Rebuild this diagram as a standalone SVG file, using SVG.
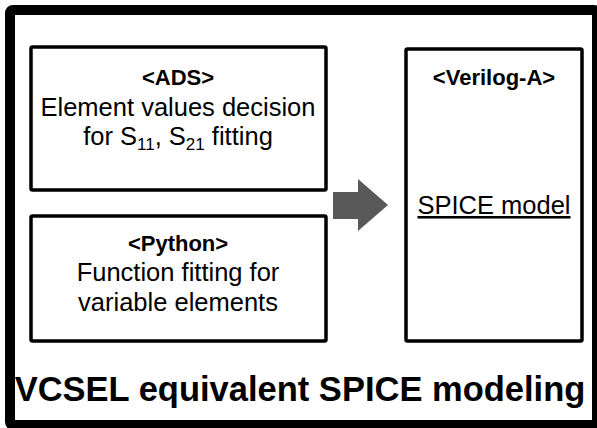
<svg xmlns="http://www.w3.org/2000/svg" width="597" height="428" viewBox="0 0 597 428">
<style>
.box{fill:#fff;stroke:#000;stroke-width:3.5}
.t{font-family:"Liberation Sans",Arial,sans-serif;font-size:25.5px;fill:#000;text-anchor:middle}
.b{font-weight:bold;font-size:22px}
.title{font-family:"Liberation Sans",Arial,sans-serif;font-size:34.5px;font-weight:bold;text-anchor:middle}
</style>
<rect x="0" y="0" width="597" height="428" fill="#fff"/>
<rect id="frame" x="10" y="10" width="587" height="415" rx="3" fill="#fff" stroke="#000" stroke-width="10"/>
<g id="ads">
<rect class="box" x="31" y="47" width="295" height="143" rx="1.5"/>
<text class="t b" x="178" y="85">&lt;ADS&gt;</text>
<text class="t" x="178" y="116">Element values decision</text>
<text class="t" x="178" y="145">for S<tspan font-size="17" dy="5">11</tspan><tspan dy="-5">, S</tspan><tspan font-size="17" dy="5">21</tspan><tspan dy="-5"> fitting</tspan></text>
</g>
<g id="python">
<rect class="box" x="31" y="216" width="295" height="125" rx="1.5"/>
<text class="t b" x="178" y="251">&lt;Python&gt;</text>
<text class="t" x="178" y="281">Function fitting for</text>
<text class="t" x="178" y="311">variable elements</text>
</g>
<g id="verilog">
<rect class="box" x="406" y="49" width="176" height="292" rx="1.5"/>
<text class="t b" x="494" y="85">&lt;Verilog-A&gt;</text>
<text class="t" x="494" y="214" text-decoration="underline">SPICE model</text>
</g>
<g id="connectors">
<polygon points="333,192 358,192 358,179 388,205 358,231 358,219 333,219" fill="#595959"/>
</g>
<text id="title" class="title" x="300" y="401">VCSEL equivalent SPICE modeling</text>
</svg>
